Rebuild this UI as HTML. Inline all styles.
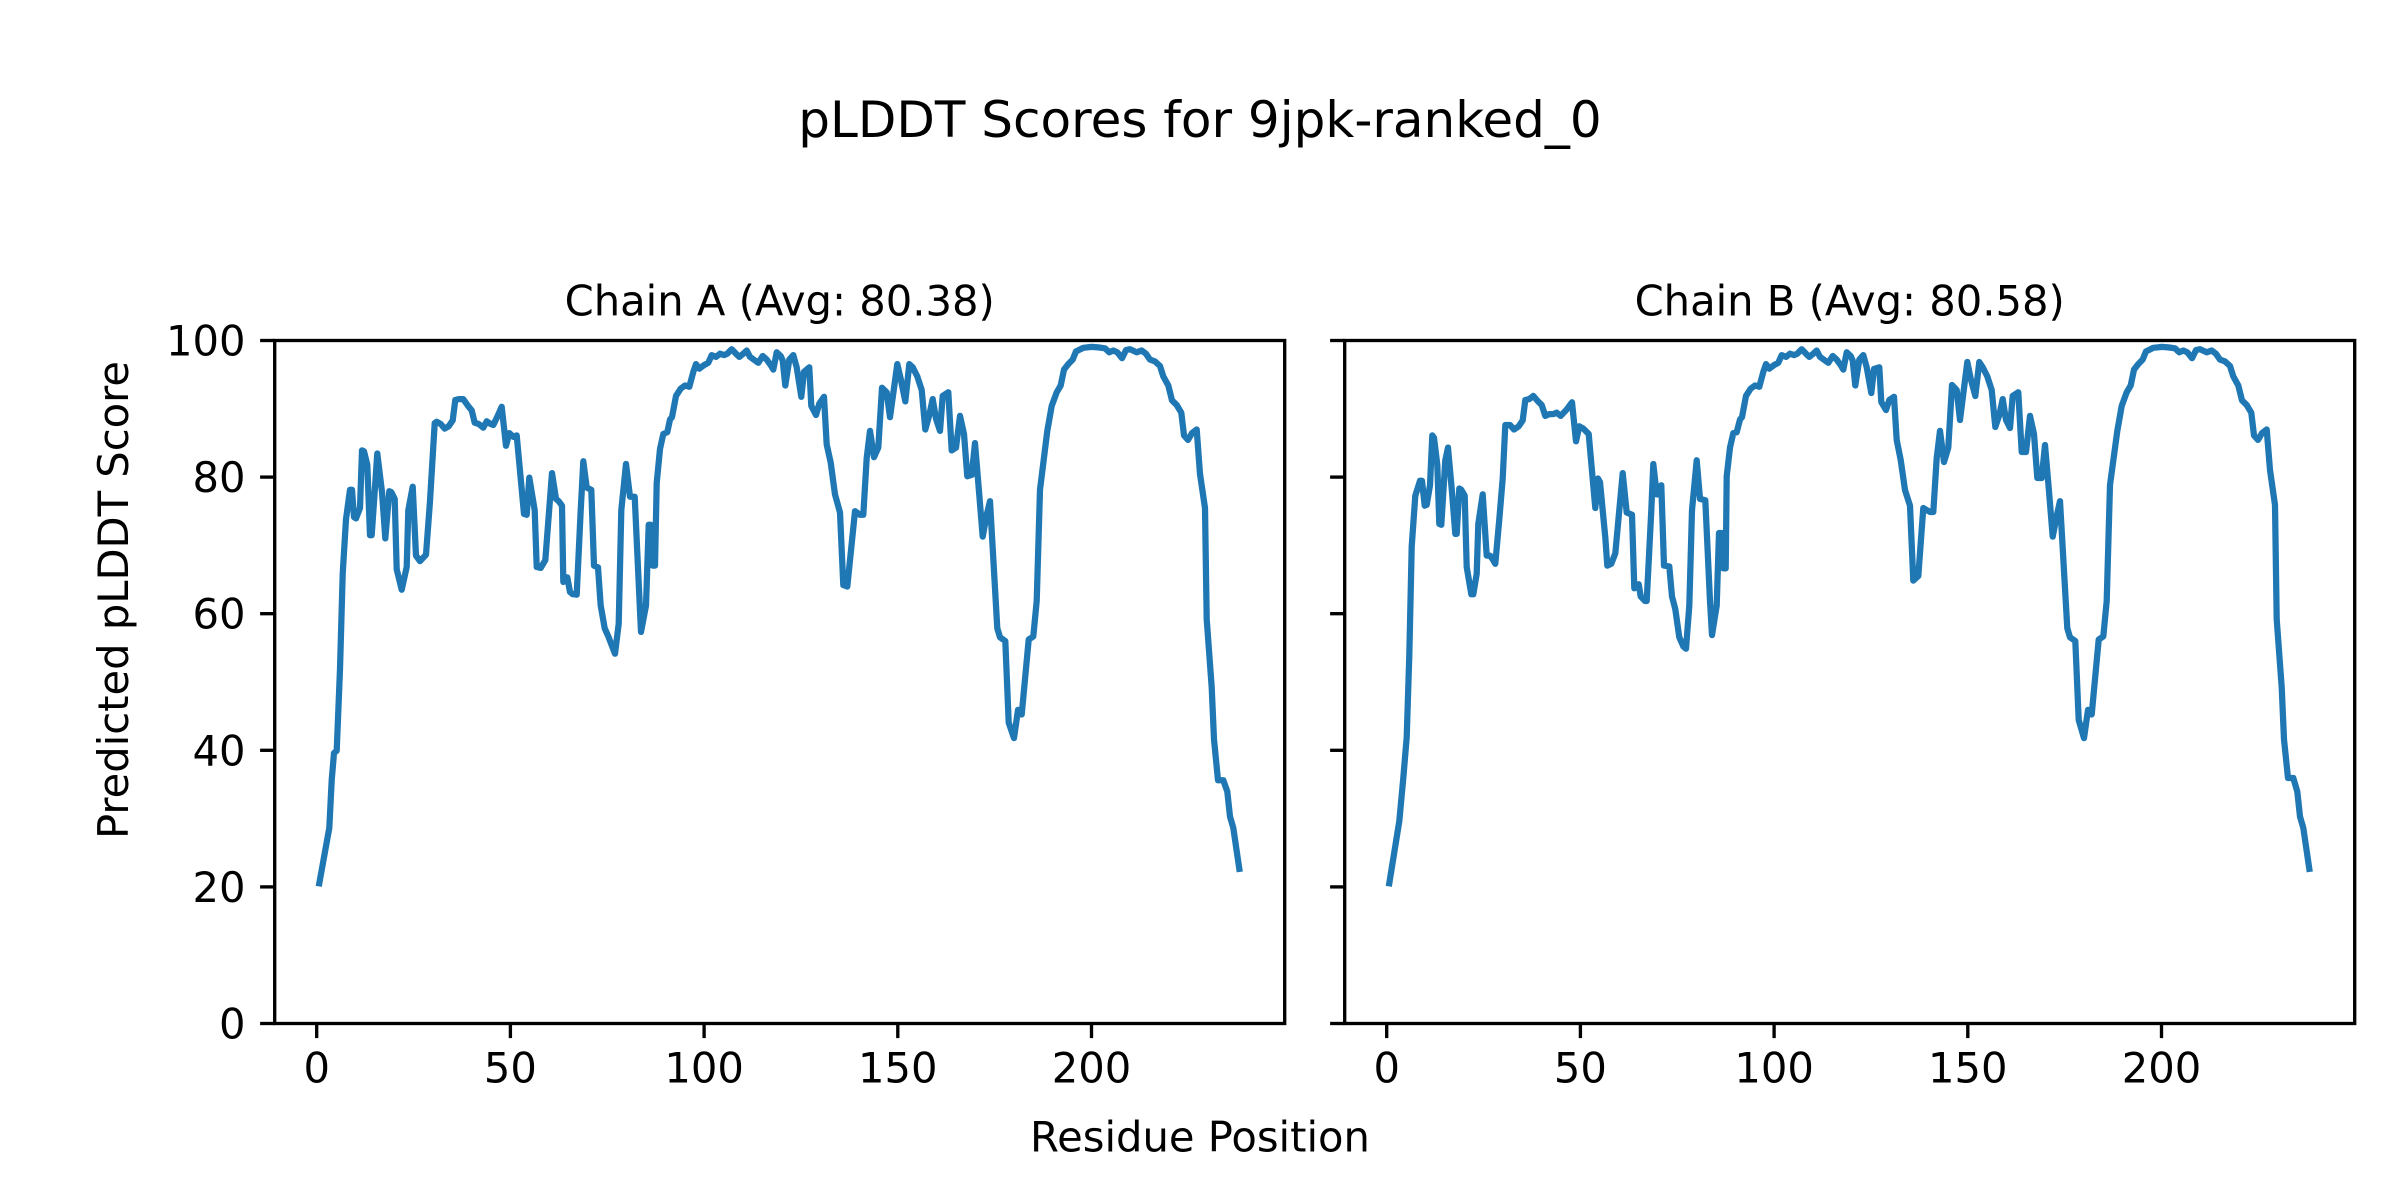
<!DOCTYPE html>
<html>
<head>
<meta charset="utf-8">
<style>
  html, body { margin: 0; padding: 0; background: #ffffff; }
  svg { display: block; }
  text { font-family: "DejaVu Sans", "Liberation Sans", sans-serif; fill: #000000; }
</style>
</head>
<body>
<svg width="2400" height="1200" viewBox="0 0 2400 1200" xmlns="http://www.w3.org/2000/svg">
  <rect x="0" y="0" width="2400" height="1200" fill="#ffffff"/>
  <defs>
    <clipPath id="clipA"><rect x="274.7" y="340.5" width="1010" height="683"/></clipPath>
    <clipPath id="clipB"><rect x="1344.7" y="340.5" width="1010" height="683"/></clipPath>
  </defs>

  <!-- Suptitle -->
  <text x="1200" y="137" font-size="50" text-anchor="middle">pLDDT Scores for 9jpk-ranked_0</text>

  <!-- Subplot titles -->
  <text x="779.7" y="315.5" font-size="41.67" text-anchor="middle">Chain A (Avg: 80.38)</text>
  <text x="1849.7" y="315.5" font-size="41.67" text-anchor="middle">Chain B (Avg: 80.58)</text>

  <!-- Y label -->
  <text transform="translate(128,600) rotate(-90)" x="0" y="0" font-size="41.67" text-anchor="middle">Predicted pLDDT Score</text>
  <!-- X label -->
  <text x="1200" y="1151.5" font-size="41.67" text-anchor="middle">Residue Position</text>

  <!-- Chain A line -->
  <g clip-path="url(#clipA)">
    <polyline fill="none" stroke="#1f77b4" stroke-width="6.25" stroke-linejoin="round" stroke-linecap="square"
      points="319.3,883.3 329.3,827.9 331.7,780.3 334,753 336.7,750.8 340,669.1 342.7,573.8 346,519.3 350,489.8 352,489.8 354,517.1 356,518.4 360,508 362,450.4 364,451.3 367.3,464.9 370,535.2 371.7,535.2 377.3,453.5 382,492.1 385.3,538.4 389.3,491.2 391.3,492.1 394.7,498.9 396.7,569.3 401.7,589.7 406.7,567 408.3,510.3 412.7,486.7 416,555.6 420,561.1 426,554.7 430,501.2 434.7,423.1 436.7,421.8 440.7,424 444.7,428.6 448.7,426.3 452.7,420.4 455.3,400 458.7,399.1 463.3,399.1 468,405.9 471.7,410.4 474.7,422.7 478.7,424 483.3,427.7 486.7,421.3 490.7,424 493.3,425 497.7,415.9 501.7,406.8 506,445.8 509.3,433.1 513.3,436.8 516.7,435.4 524,513.9 526.7,514.8 529.3,477.6 534.7,510.3 536.7,567 540.7,567.9 545.3,560.2 552,473.1 556,498.9 558.7,501.2 562,505.7 563.3,582 567.3,577.4 570,592 572.7,594.2 576.7,594.7 580.7,510.3 583.3,461.3 586.7,487.6 591.3,489.8 594,565.6 598,567.4 600.7,605.6 604.7,628.3 608.3,636.4 615,653.7 618.7,623.7 621.3,510.3 626,464 630,496.7 634.7,496.7 638.7,582.9 641,631.9 646,605.6 648.7,524.8 650.7,524.8 652.7,565.6 655,565.6 656.7,483 660,449 663.3,434 667.3,432.2 670,419.5 672,417.2 676,395.9 680.7,388.6 685,385.5 689.3,386.8 693.3,371.9 696,364.1 699.3,368.7 704,365.1 708.3,362.8 711.7,355.1 716,356.9 720,353.7 724,355.1 727.3,353.7 731.7,349.2 736,353.7 739.3,356.9 743.3,353.7 746.7,350.5 750,356.9 755,360.5 758.3,362.8 762.7,356 766.7,359.6 770.7,365.1 773.3,369.6 776.7,352.3 780.7,356 782.7,360.5 785.3,385.5 789.3,359.6 793.3,355.1 796.7,367.3 801.3,396.8 804,371.9 809.3,367.3 811.3,405.9 816,415 819.3,403.6 824,396.8 826.7,444.5 830.7,462.6 835,494.4 840,512.5 843.3,585.1 847.3,586.5 850,560.2 855,511.2 860,514.8 863.3,514.8 866.7,458.1 870,430.9 874,457.2 878.3,447.6 882,387.7 886.7,392.3 890,417.2 897.3,364.1 900.7,378.7 905.3,401.4 909.3,364.1 912.7,367.3 917.3,376.4 921.7,390 925.3,429.5 929.3,415 932.7,399.1 936,418.6 940,430.9 942.7,395.9 948.3,392.3 951.7,450.4 956,447.6 960,415.9 964,434 967.3,476.2 971.7,474.9 975,443.1 978.3,483 982.7,536.6 986.7,514.8 990,501.2 997.3,628.3 1000,637.3 1005.3,641 1008.7,722.6 1014,738.1 1018,709.9 1021.7,714.5 1028.7,639.6 1033.3,636.4 1036.7,601 1040,489.8 1047.3,430.9 1051.7,405.9 1056.7,392.3 1060.7,385.5 1064,369.6 1068.3,364.1 1072.7,359.6 1076,351.4 1083.3,347.8 1091.7,346.9 1098.3,347.4 1105,348.3 1109.3,352.3 1113.3,350.5 1117.3,352.3 1122,358.2 1126,350.1 1130,349.2 1136.7,352.3 1141.7,350.5 1146,353.7 1150,359.6 1155,361.4 1160,366 1163.3,376.4 1168.3,385.5 1172,400.4 1176.7,405 1181.3,412.7 1184,435.4 1188,439.9 1192,433.1 1196.7,429.5 1200,474 1205,508 1206.7,619.2 1211.7,687.3 1214,739.4 1218,780.3 1223.3,780.3 1227.3,791.6 1230,816.6 1233.3,827.9 1239.3,868.8"/>
  </g>

  <!-- Chain B line -->
  <g clip-path="url(#clipB)">
    <polyline transform="translate(1070,0)" fill="none" stroke="#1f77b4" stroke-width="6.25" stroke-linejoin="round" stroke-linecap="square"
      points="319.3,883.3 329.3,821.1 333.3,778 336.7,737.2 339.3,655.5 341.7,546.6 345.3,495.7 350,480.8 352,480.8 354.7,505.7 356.7,504.8 360,485.3 362.3,435.4 364,437.7 367.3,464.9 369.3,523.9 371.3,524.8 375.3,460.3 378,447.6 382,492.1 385.3,533.9 386.7,533.9 389.3,488.5 391.3,489.8 394.7,495.7 396.7,567 401.3,594.2 403.3,594.2 406.7,573.8 408.3,523.9 412.7,494.4 416.7,555.6 420,555.6 422.7,559.3 425.3,563.8 429.3,519.3 432.7,478.5 435.3,425 440,425 444,429.5 448.7,426.3 452.7,420.4 455.3,400 459.3,399.1 463.3,395.9 468,401.4 471.7,405 475.3,415.9 479.3,414.1 483.3,414.1 486.7,412.7 490.7,415.9 496.7,409.5 502,402.3 506,441.3 509.3,426.3 513.3,428.6 518.7,434 525.3,508 528,478.5 530,482.1 535.3,537.5 537.3,565.6 541.3,563.8 545.3,553.4 552.7,473.1 556.7,512.5 562,514.8 564.3,588.3 568.7,584.2 570.7,596.5 575,601 576.7,601 581.3,510.3 583.3,464 586.7,494.4 589.3,494.4 591.3,485.3 594,565.6 599.3,566.5 602,596.5 605.3,609.2 609.3,637.3 613.3,646.4 616,648.7 619.3,605.6 622,510.3 626.7,460.3 630,498.9 635.3,500.3 640,601 642,635.1 646.7,605.6 649,533 651.7,533 653.3,568.4 655.7,568.4 656.7,476.2 660,447.6 663.3,433.1 666.7,432.2 670,419.5 672,417.2 676,395.9 680.7,388.6 685,385.5 689.3,386.8 693.3,371.9 696,364.1 699.3,368.7 704,365.1 708.3,362.8 711.7,355.1 716,356.9 720,353.7 724,355.1 727.3,353.7 731.7,349.2 736,353.7 739.3,356.9 743.3,353.7 746.7,350.5 750,356.9 755,360.5 758.3,362.8 762.7,356 766.7,359.6 770.7,365.1 773.3,369.6 776.7,352.3 780.7,356 782.7,360.5 785.3,385.5 789.3,359.6 793.3,355.1 796.7,367.3 801.3,393 804,369 809.3,367.3 811.3,402 816,410 819.3,400 824,396.8 826.7,440 830.7,460 835,490 840,505.7 843.3,580.6 848.3,576 853.3,508 860,512 863.3,512 866.7,458.1 870,430.9 874,462 878.3,447.6 882,385 886.7,390 890,420 897.3,362 900.7,378.7 905.3,396 909.3,362 912.7,367.3 917.3,376.4 921.7,390 925.3,427 929.3,415 932.7,399.1 936,420 940,428 942.7,395.9 948.3,392.3 951.7,452 956,452 960,415.9 964,434 967.3,478 971.7,478 975,445 978.3,483 982.7,536.6 986.7,516 990,501.2 997.3,628.3 1000,637.3 1005.3,641 1008.7,720 1014,738.1 1018,709.9 1021.7,714.5 1028.7,639.6 1033.3,636.4 1036.7,601 1040,485 1047.3,430.9 1051.7,405.9 1056.7,392.3 1060.7,385.5 1064,369.6 1068.3,364.1 1072.7,359.6 1076,351.4 1083.3,347.8 1091.7,346.9 1098.3,347.4 1105,348.3 1109.3,352.3 1113.3,350.5 1117.3,352.3 1122,358.2 1126,350.1 1130,349.2 1136.7,352.3 1141.7,350.5 1146,353.7 1150,359.6 1155,361.4 1160,366 1163.3,376.4 1168.3,385.5 1172,400.4 1176.7,405 1181.3,412.7 1184,435.4 1188,439.9 1192,433.1 1196.7,429.5 1200,470 1205,505 1206.7,619.2 1211.7,687.3 1214,739.4 1218,778 1223.3,778 1227.3,791.6 1230,816.6 1233.3,827.9 1239.3,868.8"/>
  </g>

  <!-- Spines -->
  <rect x="274.7" y="340.5" width="1010" height="683" fill="none" stroke="#000" stroke-width="3.33" stroke-linejoin="miter"/>
  <rect x="1344.7" y="340.5" width="1010" height="683" fill="none" stroke="#000" stroke-width="3.33" stroke-linejoin="miter"/>

  <!-- Y ticks A and B -->
  <g stroke="#000" stroke-width="3.33">
    <line x1="260.1" y1="340.5" x2="274.7" y2="340.5"/>
    <line x1="260.1" y1="477.1" x2="274.7" y2="477.1"/>
    <line x1="260.1" y1="613.7" x2="274.7" y2="613.7"/>
    <line x1="260.1" y1="750.3" x2="274.7" y2="750.3"/>
    <line x1="260.1" y1="886.9" x2="274.7" y2="886.9"/>
    <line x1="260.1" y1="1023.5" x2="274.7" y2="1023.5"/>

    <line x1="1330.1" y1="340.5" x2="1344.7" y2="340.5"/>
    <line x1="1330.1" y1="477.1" x2="1344.7" y2="477.1"/>
    <line x1="1330.1" y1="613.7" x2="1344.7" y2="613.7"/>
    <line x1="1330.1" y1="750.3" x2="1344.7" y2="750.3"/>
    <line x1="1330.1" y1="886.9" x2="1344.7" y2="886.9"/>
    <line x1="1330.1" y1="1023.5" x2="1344.7" y2="1023.5"/>

    <!-- X ticks A -->
    <line x1="316.7" y1="1023.5" x2="316.7" y2="1038.1"/>
    <line x1="510.4" y1="1023.5" x2="510.4" y2="1038.1"/>
    <line x1="704.1" y1="1023.5" x2="704.1" y2="1038.1"/>
    <line x1="897.8" y1="1023.5" x2="897.8" y2="1038.1"/>
    <line x1="1091.5" y1="1023.5" x2="1091.5" y2="1038.1"/>
    <!-- X ticks B -->
    <line x1="1386.7" y1="1023.5" x2="1386.7" y2="1038.1"/>
    <line x1="1580.4" y1="1023.5" x2="1580.4" y2="1038.1"/>
    <line x1="1774.1" y1="1023.5" x2="1774.1" y2="1038.1"/>
    <line x1="1967.8" y1="1023.5" x2="1967.8" y2="1038.1"/>
    <line x1="2161.5" y1="1023.5" x2="2161.5" y2="1038.1"/>
  </g>

  <!-- Y tick labels -->
  <g font-size="41.67" text-anchor="end">
    <text x="245.5" y="355.5">100</text>
    <text x="245.5" y="492.1">80</text>
    <text x="245.5" y="628.7">60</text>
    <text x="245.5" y="765.3">40</text>
    <text x="245.5" y="901.9">20</text>
    <text x="245.5" y="1038.5">0</text>
  </g>

  <!-- X tick labels -->
  <g font-size="41.67" text-anchor="middle">
    <text x="316.7" y="1082.6">0</text>
    <text x="510.4" y="1082.6">50</text>
    <text x="704.1" y="1082.6">100</text>
    <text x="897.8" y="1082.6">150</text>
    <text x="1091.5" y="1082.6">200</text>
    <text x="1386.7" y="1082.6">0</text>
    <text x="1580.4" y="1082.6">50</text>
    <text x="1774.1" y="1082.6">100</text>
    <text x="1967.8" y="1082.6">150</text>
    <text x="2161.5" y="1082.6">200</text>
  </g>
</svg>
</body>
</html>
